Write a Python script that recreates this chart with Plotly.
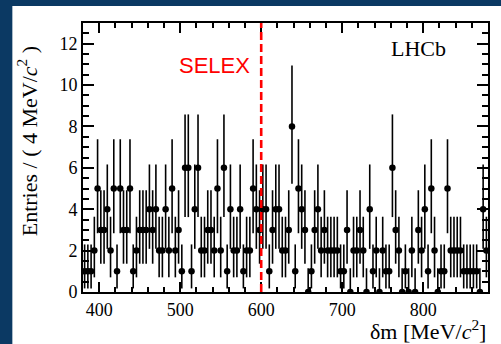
import plotly.graph_objects as go

# ---- data ----
bin_low = 380.0
bin_width = 4.0
counts = [1, 1, 1, 2, 5, 3, 3, 4, 2, 5,
          1, 5, 3, 3, 5, 1, 2, 3, 3, 3,
          4, 3, 4, 2, 2, 4, 2, 5, 2, 3,
          1, 6, 6, 1, 4, 6, 2, 2, 3, 3,
          2, 5, 2, 6, 1, 4, 2, 2, 4, 1,
          2, 2, 5, 4, 3, 4, 4, 1, 3, 4,
          4, 2, 2, 3, 8, 1, 5, 4, 3, 0,
          1, 3, 4, 2, 3, 2, 2, 2, 2, 1,
          1, 3, 0, 2, 2, 3, 2, 0, 4, 1,
          2, 0, 2, 1, 1, 6, 3, 2, 0, 1,
          0, 2, 0, 3, 2, 4, 1, 5, 2, 0,
          1, 1, 5, 2, 2, 2, 2, 1, 1, 1,
          1, 1, 0, 4, 2]
# Poisson (RooFit) interval table: count -> (lower bound, upper bound)
poisson_interval = {0: (0.0, 1.148), 1: (0.173, 2.300), 2: (0.708, 3.638),
                    3: (1.367, 4.918), 4: (2.086, 6.163), 5: (2.840, 7.382),
                    6: (3.620, 8.583), 7: (4.419, 9.770), 8: (5.232, 10.944)}
selex_mass = 600
x_ticks = [400, 500, 600, 700, 800]
y_ticks = [0, 2, 4, 6, 8, 10, 12]

centers = [bin_low + bin_width * (i + 0.5) for i in range(len(counts))]
err_lo = [c - poisson_interval[c][0] for c in counts]
err_hi = [poisson_interval[c][1] - c for c in counts]

W, H = 501, 344
ML, MR, MT, MB = 83, 11, 23, 52
PW, PH = W - ML - MR, H - MT - MB

def px(xp):
    return (xp - ML) / PW

def py(yp):
    return (H - MB - yp) / PH

serif = "Liberation Serif"
fig = go.Figure()
fig.add_trace(go.Scatter(
    x=centers, y=counts, mode="markers",
    marker=dict(color="black", size=6.5),
    error_y=dict(type="data", symmetric=False, array=err_hi, arrayminus=err_lo,
                 thickness=1.6, width=0, color="black"),
    error_x=dict(type="constant", value=bin_width / 2, thickness=1.6, width=0, color="black"),
    showlegend=False, cliponaxis=True,
))

fig.add_shape(type="rect", xref="paper", yref="paper",
              x0=px(12), x1=px(W + 5), y0=py(H + 5), y1=py(6),
              fillcolor="white", line=dict(width=0), layer="below")
fig.add_shape(type="line", xref="x", yref="y", x0=selex_mass, x1=selex_mass, y0=0, y1=13,
              line=dict(color="#ff0000", width=2.6, dash="8px,4px"))

fig.add_annotation(text="SELEX", xref="x", yref="y", x=542, y=10.95,
                   showarrow=False, font=dict(family="Liberation Sans", size=22, color="#ff0000"),
                   xanchor="center", yanchor="middle")
fig.add_annotation(text="LHCb", xref="x", yref="y", x=794, y=11.75,
                   showarrow=False, font=dict(family=serif, size=22, color="black"),
                   xanchor="center", yanchor="middle")
fig.add_annotation(text="δm [MeV/<i>c</i><sup>2</sup>]", xref="paper", yref="paper",
                   x=1.0, y=py(330), showarrow=False, xanchor="right", yanchor="middle",
                   font=dict(family=serif, size=22, color="black"))
fig.add_annotation(text="Entries / ( 4 MeV/<i>c</i><sup>2</sup> )", xref="paper", yref="paper",
                   x=px(27), y=py(141), showarrow=False, textangle=-90,
                   xanchor="center", yanchor="middle",
                   font=dict(family=serif, size=22, color="black"))

axis_common = dict(showline=True, linecolor="black", linewidth=2, mirror="allticks",
                   ticks="inside", tickcolor="black", tickwidth=1.5,
                   showgrid=False, zeroline=False,
                   tickfont=dict(family=serif, size=18, color="black"))
fig.update_xaxes(range=[380, 880], tickvals=x_ticks, ticklen=10,
                 minor=dict(ticks="inside", ticklen=5, dtick=20, tick0=380,
                            tickcolor="black", tickwidth=1.5, showgrid=False),
                 **axis_common)
fig.update_yaxes(range=[0, 13], tickvals=y_ticks, ticklen=11,
                 minor=dict(ticks="inside", ticklen=6, dtick=0.5, tick0=0,
                            tickcolor="black", tickwidth=1.5, showgrid=False),
                 **axis_common)

fig.update_layout(width=W, height=H, margin=dict(l=ML, r=MR, t=MT, b=MB),
                  paper_bgcolor="#0b3963", plot_bgcolor="white")
fig.write_html("out.html")
